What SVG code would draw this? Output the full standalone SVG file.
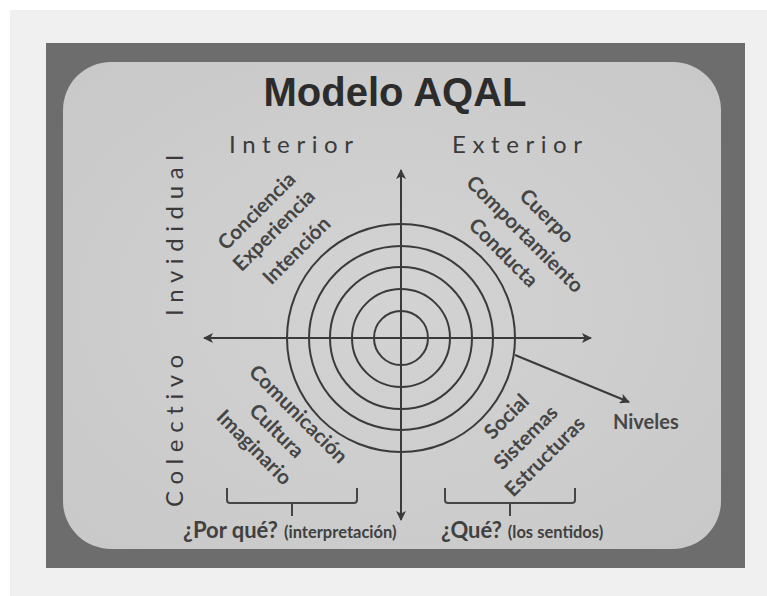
<svg xmlns="http://www.w3.org/2000/svg" width="767" height="596" viewBox="0 0 767 596">
  <style>
    .title { font-family: "Liberation Sans", Arial, sans-serif; font-weight: bold; font-size: 40px; fill: #2c2c2c; }
    .axis-label { font-family: Lato, "Open Sans", sans-serif; font-size: 24px; fill: #3a3a3a; letter-spacing: 6.6px; }
    .diag { font-family: Lato, "Open Sans", sans-serif; font-weight: bold; font-size: 20.5px; fill: #454545; text-anchor: middle; }
    .q-big { font-family: Lato, "Open Sans", sans-serif; font-weight: bold; font-size: 22px; fill: #404040; }
    .q-small { font-size: 16.5px; }
    .niveles { font-family: Lato, "Open Sans", sans-serif; font-weight: bold; font-size: 20px; fill: #474747; }
    .ring { fill: none; stroke: #3a3a3a; stroke-width: 2; }
    .line { fill: none; stroke: #3a3a3a; stroke-width: 2; }
    .brace { fill: none; stroke: #454545; stroke-width: 2; stroke-linejoin: round; }
  </style>
  <defs>
    <marker id="arrow" viewBox="0 0 10 10" refX="9" refY="5" markerWidth="5" markerHeight="5" orient="auto" markerUnits="strokeWidth">
      <path d="M0,0 L10,5 L0,10 L2.5,5 z" fill="#3a3a3a"/>
    </marker>
    <radialGradient id="panel" cx="50%" cy="50%" r="65%">
      <stop offset="0" stop-color="#d3d3d3"/>
      <stop offset="1" stop-color="#c9c9c9"/>
    </radialGradient>
  </defs>

  <!-- background -->
  <rect x="0" y="0" width="767" height="596" fill="#ffffff"/>
  <rect x="10" y="10" width="757" height="586" fill="#f0f0f0"/>
  <rect x="46" y="43" width="699" height="525" fill="#6d6d6d"/>
  <rect x="63" y="62" width="658" height="487" rx="48" ry="48" fill="url(#panel)"/>

  <g id="title">
    <text class="title" x="395" y="106" text-anchor="middle">Modelo AQAL</text>
  </g>

  <g id="label-interior"><text class="axis-label" x="229" y="153">Interior</text></g>
  <g id="label-exterior"><text class="axis-label" x="452" y="153">Exterior</text></g>
  <g id="label-individual"><text class="axis-label" transform="translate(183,316) rotate(-90)">Invididual</text></g>
  <g id="label-colectivo"><text class="axis-label" transform="translate(183,507) rotate(-90)">Colectivo</text></g>

  <g id="rings">
    <circle class="ring" cx="401" cy="338" r="114"/>
    <circle class="ring" cx="401" cy="338" r="92"/>
    <circle class="ring" cx="401" cy="338" r="71"/>
    <circle class="ring" cx="401" cy="338" r="49"/>
    <circle class="ring" cx="401" cy="338" r="27"/>
  </g>

  <g id="connectors">
    <line class="line" x1="401" y1="338" x2="401" y2="170" marker-end="url(#arrow)"/>
    <line class="line" x1="401" y1="338" x2="401" y2="520" marker-end="url(#arrow)"/>
    <line class="line" x1="401" y1="338" x2="204" y2="338" marker-end="url(#arrow)"/>
    <line class="line" x1="401" y1="338" x2="591" y2="338" marker-end="url(#arrow)"/>
    <line class="line" x1="515" y1="355" x2="629" y2="402" marker-end="url(#arrow)"/>
  </g>

  <g id="quadrant-upper-left">
    <text class="diag" transform="translate(261.5,216) rotate(-45)">Conciencia</text>
    <text class="diag" transform="translate(279,235) rotate(-45)">Experiencia</text>
    <text class="diag" transform="translate(301.5,255.5) rotate(-45)">Intención</text>
  </g>
  <g id="quadrant-upper-right">
    <text class="diag" transform="translate(542,221) rotate(45)">Cuerpo</text>
    <text class="diag" transform="translate(520,239) rotate(45)">Comportamiento</text>
    <text class="diag" transform="translate(498.5,257.5) rotate(45)">Conducta</text>
  </g>
  <g id="quadrant-lower-left">
    <text class="diag" transform="translate(293.5,419) rotate(45)">Comunicación</text>
    <text class="diag" transform="translate(271.8,435.7) rotate(45)">Cultura</text>
    <text class="diag" transform="translate(249.3,452.3) rotate(45)">Imaginario</text>
  </g>
  <g id="quadrant-lower-right">
    <text class="diag" transform="translate(511.5,421.5) rotate(-45)">Social</text>
    <text class="diag" transform="translate(530.7,442.3) rotate(-45)">Sistemas</text>
    <text class="diag" transform="translate(549.8,461.5) rotate(-45)">Estructuras</text>
  </g>

  <g id="niveles">
    <text class="niveles" x="613" y="429">Niveles</text>
  </g>

  <g id="brace-left">
    <path class="brace" d="M227,488 L227,500 Q227,503 230,503 L354,503 Q357,503 357,500 L357,488 M292,503 L292,516"/>
  </g>
  <g id="brace-right">
    <path class="brace" d="M445,488 L445,500 Q445,503 448,503 L572,503 Q575,503 575,500 L575,488 M510,503 L510,516"/>
  </g>

  <g id="por-que">
    <text class="q-big" x="183" y="538">¿Por qué?<tspan class="q-small" dx="6">(interpretación)</tspan></text>
  </g>
  <g id="que">
    <text class="q-big" x="441" y="538">¿Qué?<tspan class="q-small" dx="6">(los sentidos)</tspan></text>
  </g>
</svg>
